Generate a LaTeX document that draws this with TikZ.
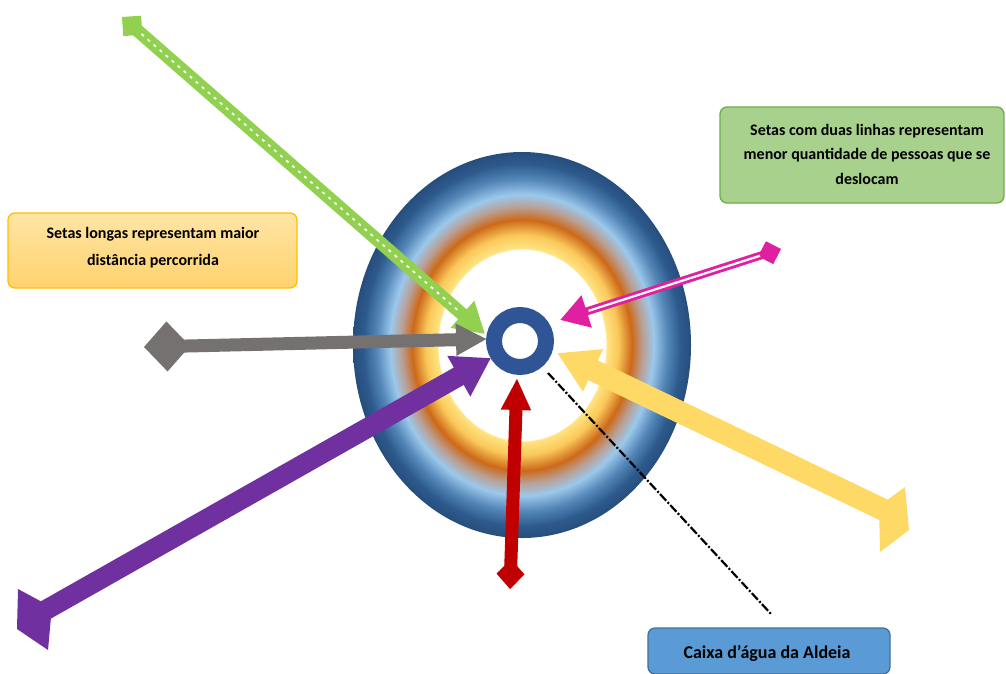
\documentclass[tikz,border=0pt]{standalone}
\usepackage{fontspec}
\setmainfont{Carlito}
\usetikzlibrary{arrows.meta,calc,shapes.geometric}
\definecolor{ylwA}{RGB}{255,228,130}
\definecolor{ylwB}{RGB}{250,200,90}
\definecolor{orgC}{RGB}{205,105,25}
\definecolor{tanD}{RGB}{185,160,150}
\definecolor{lbluE}{RGB}{155,200,235}
\definecolor{mbluF}{RGB}{85,135,185}
\definecolor{dbluG}{RGB}{45,90,140}
\definecolor{dbluH}{RGB}{38,78,125}
\definecolor{grArrow}{RGB}{146,208,80}
\definecolor{gyArrow}{RGB}{118,113,113}
\definecolor{puArrow}{RGB}{112,48,160}
\definecolor{yeArrow}{RGB}{255,217,102}
\definecolor{maArrow}{RGB}{224,32,160}
\definecolor{reArrow}{RGB}{192,0,0}
\definecolor{ringBlue}{RGB}{47,85,151}
\definecolor{boxGreenFill}{RGB}{169,209,142}
\definecolor{boxGreenLine}{RGB}{112,173,71}
\definecolor{boxOrgTop}{RGB}{255,229,165}
\definecolor{boxOrgBot}{RGB}{255,210,110}
\definecolor{boxOrgLine}{RGB}{255,192,0}
\definecolor{boxBlueFill}{RGB}{91,155,213}
\definecolor{boxBlueLine}{RGB}{65,113,156}
\pgfdeclareradialshading{rings}{\pgfpoint{0bp}{0bp}}{%
color(0bp)=(white); color(12.4bp)=(white); color(12.5bp)=(ylwA); color(14.25bp)=(ylwB);
color(16.25bp)=(orgC); color(17.9bp)=(tanD); color(19.5bp)=(lbluE); color(21.5bp)=(mbluF);
color(23.5bp)=(dbluG); color(25bp)=(dbluH); color(50bp)=(dbluH)}
\tikzset{
  notebox/.style={rounded corners=7pt, line width=1.3pt, inner sep=0pt},
  notetext/.style={font=\bfseries\fontsize{16}{24.5}\selectfont, align=center, text=black},
  arrowline/.style={line cap=butt, line join=miter},
}
\begin{document}
\begin{tikzpicture}[x=1pt,y=-1pt]
\useasboundingbox (0,0) rectangle (1006,673);

% concentric zone
\node[ellipse, minimum width=338pt, minimum height=386pt, inner sep=0pt, shade, shading=rings] (zone) at (522,345) {};

% black dash-dot line
\coordinate (dashS) at (548,373);
\coordinate (dashE) at (772,615);
\draw[black, line width=2.2pt, dash pattern=on 9pt off 2pt on 2pt off 2pt] (dashS) -- (dashE);

% green arrow (dotted centre)
\coordinate (gT) at (122,17);
\coordinate (gH) at (485,334);
\draw[arrowline, grArrow, line width=13pt, {Turned Square[length=27pt,width=27pt]}-{Triangle[length=30pt,width=34pt]}] (gT) -- (gH);
\draw[white, line width=1.8pt, dash pattern=on 3pt off 5pt] ($(gT)!26pt!(gH)$) -- ($(gH)!32pt!(gT)$);

% gray arrow
\coordinate (yT) at (144,347);
\coordinate (yH) at (487,339);
\draw[arrowline, gyArrow, line width=13pt, {Turned Square[length=46pt,width=50pt]}-{Triangle[length=31pt,width=30pt]}] (yT) -- (yH);

% purple arrow
\coordinate (pT) at (44,611);
\coordinate (pH) at (491,358);
\fill[puArrow] (18,589) -- (44,603) -- (51,617) -- (48,650) -- (17,629) -- cycle;
\draw[arrowline, puArrow, line width=20pt, -{Triangle[length=37pt,width=44pt]}] (pT) -- (pH);

% yellow arrow
\coordinate (eT) at (886,511);
\coordinate (eH) at (557,353);
\fill[yeArrow] (879,506) -- (905,487) -- (909,530) -- (880,552) -- cycle;
\draw[arrowline, yeArrow, line width=22pt, -{Triangle[length=40pt,width=44pt]}] (eT) -- (eH);

% magenta double arrow
\coordinate (mT) at (781,249);
\coordinate (mH) at (560,320);
\draw[arrowline, maArrow, line width=8pt, {Turned Square[length=24pt,width=24pt]}-{Triangle[length=28pt,width=32pt]}] (mT) -- (mH);
\draw[white, line width=2.2pt] ($(mT)!22pt!(mH)$) -- ($(mH)!30pt!(mT)$);

% red arrow
\coordinate (rT) at (510,589);
\coordinate (rH) at (517,378);
\draw[arrowline, reArrow, line width=13pt, {Turned Square[length=30pt,width=28pt]}-{Triangle[length=32pt,width=28pt]}] (rT) -- (rH);

% water tank ring
\node[circle, draw=ringBlue, fill=white, line width=16pt, minimum size=52pt, inner sep=0pt] (tank) at (520,341) {};

% notes
\node[notebox, draw=boxGreenLine, fill=boxGreenFill, minimum width=284pt, minimum height=96pt] (noteG) at (862,155) {};
\node[notetext] (noteGt) at (867,154) {Setas com duas linhas representam\\menor quantidade de pessoas que se\\deslocam};

\node[notebox, draw=boxOrgLine, top color=boxOrgTop, bottom color=boxOrgBot, minimum width=289pt, minimum height=75pt] (noteO) at (152.5,250.5) {};
\node[notetext, font=\bfseries\fontsize{16}{27}\selectfont] (noteOt) at (153,248) {Setas longas representam maior\\distância percorrida};

\node[notebox, draw=boxBlueLine, fill=boxBlueFill, minimum width=242pt, minimum height=46pt] (noteB) at (769,651) {};
\node[notetext, font=\bfseries\fontsize{18}{20}\selectfont] (noteBt) at (767,653) {Caixa d’água da Aldeia};
\end{tikzpicture}
\end{document}
